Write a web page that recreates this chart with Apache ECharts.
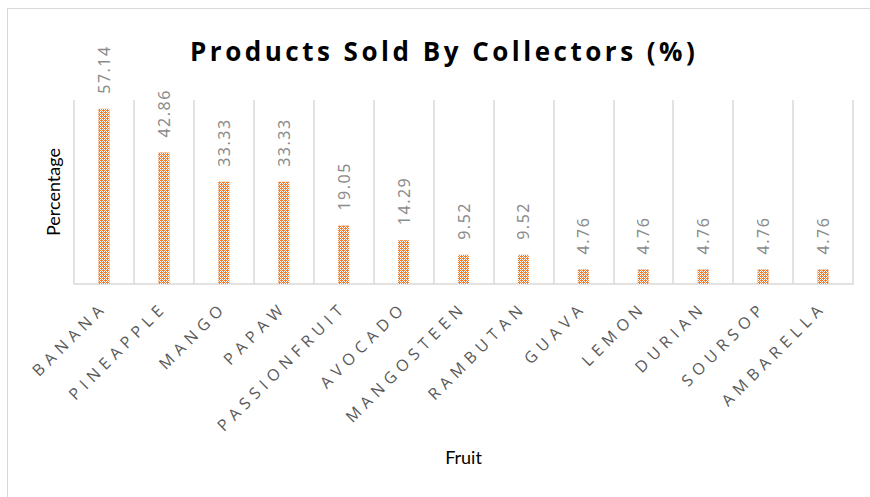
<!DOCTYPE html>
<html>
<head>
<meta charset="utf-8">
<script src="https://cdn.jsdelivr.net/npm/echarts@6/dist/echarts.min.js"></script>
<style>
  html, body { margin: 0; padding: 0; background: #fff; }
  #main { width: 870px; height: 497px; }
  .frame {
    position: absolute; left: 7px; top: 8px; right: 0; bottom: 0;
    border-left: 1px solid #d9d9d9; border-top: 1px solid #d9d9d9;
    pointer-events: none;
  }
  /* Excel-style letter spacing: axis labels, title, data labels */
  #main text[style*="Open Sans"] { letter-spacing: 5.5px; }
  #main text[style*="Open Sans"][style*="bold"] { letter-spacing: 3.5px; }
  #main text[style*="Noto Sans"] { letter-spacing: 1.5px; }
</style>
</head>
<body>
<div id="main"></div>
<div class="frame"></div>
<script>
  var fruits = ['BANANA', 'PINEAPPLE', 'MANGO', 'PAPAW', 'PASSIONFRUIT', 'AVOCADO',
    'MANGOSTEEN', 'RAMBUTAN', 'GUAVA', 'LEMON', 'DURIAN', 'SOURSOP', 'AMBARELLA']
  var percentages = [57.14, 42.86, 33.33, 33.33, 19.05, 14.29, 9.52, 9.52, 4.76, 4.76, 4.76, 4.76, 4.76]

  var chart = echarts.init(document.getElementById('main'), null, { renderer: 'svg' })
  chart.setOption({
    backgroundColor: '#fff',
    animation: false,
    title: {
      text: 'Products Sold By Collectors (%)',
      left: 185,
      top: 33,
      textStyle: {
        fontFamily: 'Open Sans',
        fontWeight: 'bold',
        fontSize: 26,
        color: '#000'
      }
    },
    grid: {
      left: 74,
      right: 17,
      top: 100,
      bottom: 213
    },
    xAxis: {
      type: 'category',
      data: fruits,
      name: 'Fruit',
      nameLocation: 'middle',
      nameGap: 164,
      nameTextStyle: {
        fontFamily: 'Lato',
        fontSize: 18,
        color: '#000'
      },
      axisLine: { lineStyle: { color: '#d9d9d9', width: 1.5 } },
      axisTick: { show: false },
      splitLine: { show: true, lineStyle: { color: '#d9d9d9', width: 1.5 } },
      axisLabel: {
        interval: 0,
        rotate: 45,
        margin: 20,
        fontFamily: 'Open Sans',
        fontSize: 16,
        color: '#595959'
      }
    },
    yAxis: {
      type: 'value',
      min: 0,
      max: 60,
      name: 'Percentage',
      nameLocation: 'middle',
      nameGap: 12,
      nameTextStyle: {
        fontFamily: 'Lato',
        fontSize: 18,
        color: '#000'
      },
      axisLine: { show: false },
      axisTick: { show: false },
      axisLabel: { show: false },
      splitLine: { show: false }
    },
    series: [
      {
        type: 'bar',
        data: percentages,
        barWidth: 11,
        itemStyle: {
          color: '#ED7D31',
          // white gaps around orange crosses, like Excel's dotted fill
          decal: {
            symbol: 'rect',
            symbolSize: 1,
            color: '#ffffff',
            dashArrayX: [[1, 1], [0, 3, 1, 0], [1, 1], [0, 1, 1, 2]],
            dashArrayY: [1, 0],
            rotation: 0
          }
        },
        label: {
          show: true,
          position: 'top',
          rotate: 90,
          align: 'left',
          verticalAlign: 'middle',
          distance: 15,
          formatter: function (p) { return p.value.toFixed(2) },
          fontFamily: 'Noto Sans',
          fontSize: 16,
          color: '#8c8c8c'
        }
      }
    ]
  })
</script>
</body>
</html>
